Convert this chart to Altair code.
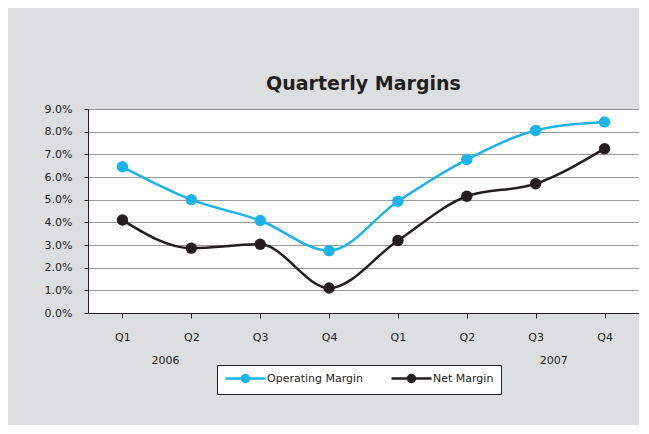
import altair as alt
import pandas as pd

quarters = ["Q1", "Q2", "Q3", "Q4", "Q1", "Q2", "Q3", "Q4"]
years = ["2006", "2006", "2006", "2006", "2007", "2007", "2007", "2007"]
operating = [6.45, 5.0, 4.08, 2.75, 4.93, 6.77, 8.05, 8.43]
net = [4.1, 2.86, 3.03, 1.1, 3.2, 5.15, 5.7, 7.25]
series = ["Operating Margin", "Net Margin"]
colors = ["#1cb4e8", "#231f20"]
year_labels = ["2006", "2007"]

# unique category names: second-year quarters carry an invisible zero-width space
keys = [q if y == years[0] else q + "\u200b" for y, q in zip(years, quarters)]
rows = []
for k, o, n in zip(keys, operating, net):
    rows.append({"key": k, "series": series[0], "value": o / 100})
    rows.append({"key": k, "series": series[1], "value": n / 100})
df = pd.DataFrame(rows)

FONT = "DejaVu Sans"
INK = "#231f20"

x = alt.X("key:N", sort=keys, scale=alt.Scale(paddingInner=0, paddingOuter=0),
          axis=alt.Axis(title=None, labelAngle=0, domainColor=INK, tickColor=INK,
                        tickSize=5, labelPadding=13, labelFont=FONT, labelFontSize=11,
                        labelColor=INK))
y = alt.Y("value:Q", scale=alt.Scale(domain=[0, 0.09], nice=False),
          axis=alt.Axis(title=None, format=".1%", tickCount=9, tickSize=4, labelPadding=12,
                        gridColor="#9a9a9a", domainColor=INK, tickColor=INK,
                        labelFont=FONT, labelFontSize=11, labelColor=INK))

sym = ("M-1,0H7M2.3,0C2.3,-0.387,2.613,-0.7,3,-0.7C3.387,-0.7,3.7,-0.387,3.7,0"
       "C3.7,0.387,3.387,0.7,3,0.7C2.613,0.7,2.3,0.387,2.3,0Z")
color = alt.Color("series:N", scale=alt.Scale(domain=series, range=colors),
                  legend=alt.Legend(title=None, orient="none", legendX=129, legendY=256,
                                    direction="horizontal", symbolType=sym, symbolSize=100,
                                    symbolStrokeWidth=2.5, labelFontSize=11, labelFont=FONT,
                                    labelColor=INK, strokeColor=INK, fillColor="white",
                                    padding=7, columnPadding=22, labelOffset=30))

base = alt.Chart(df).encode(x=x, y=y, color=color)
lines = base.mark_line(interpolate="monotone", strokeWidth=2.5)
points = base.mark_circle(size=130, opacity=1)

year_df = pd.DataFrame({"key": [keys[0], keys[6]], "label": year_labels})
y06 = alt.Chart(year_df.iloc[[0]]).mark_text(
    dx=43, font=FONT, fontSize=11, color=INK, baseline="middle").encode(
    x=alt.X("key:N", sort=keys), y=alt.value(252), text="label:N")
y07 = alt.Chart(year_df.iloc[[1]]).mark_text(
    dx=18, font=FONT, fontSize=11, color=INK, baseline="middle").encode(
    x=alt.X("key:N", sort=keys), y=alt.value(252), text="label:N")

chart = alt.layer(lines, points, y06, y07).properties(
    width=551, height=204,
    title=alt.Title("Quarterly Margins", font=FONT, fontSize=19, fontWeight="bold",
                    color=INK, offset=9),
    padding={"left": 36, "top": 67, "right": 0, "bottom": 30},
    background="#dddee0",
).configure_view(fill="white", stroke="#9a9a9a")

chart.save("out.html", embed_options={"renderer": "svg", "actions": False})
